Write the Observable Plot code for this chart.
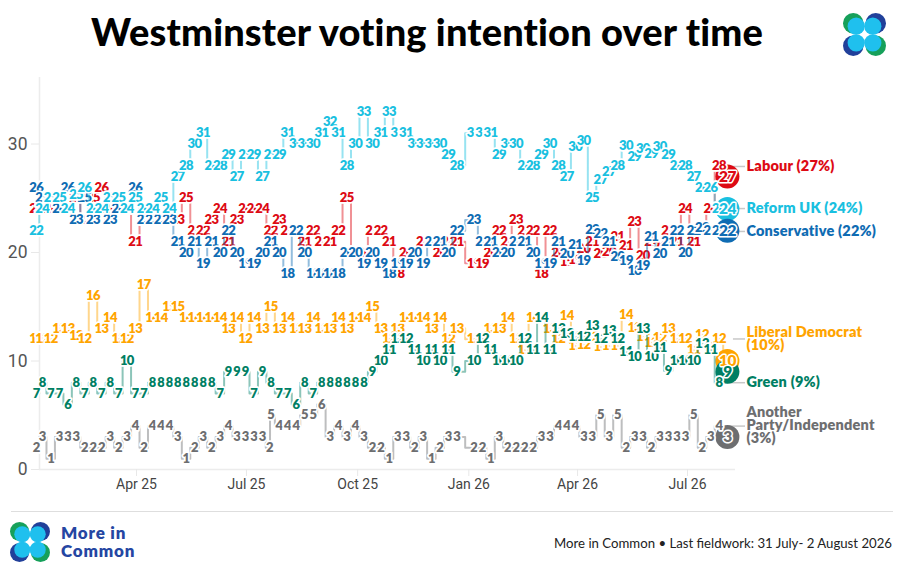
<!DOCTYPE html>
<html>
<head>
<meta charset="utf-8">
<script src="https://cdn.jsdelivr.net/npm/d3@7"></script>
<script src="https://cdn.jsdelivr.net/npm/@observablehq/plot@0.6"></script>
<style>
  html, body { margin: 0; padding: 0; background: #fff; }
  #page { position: relative; width: 904px; height: 576px; overflow: hidden; font-family: Lato, sans-serif; }
  h1 { position: absolute; left: 0; width: 854px; top: 8px; margin: 0; text-align: center; font: 900 38px/46px Lato, sans-serif; color: #000; letter-spacing: 0.15px; }
  #chart { position: absolute; left: 0; top: 60px; }
  #rule { position: absolute; left: 11px; width: 882px; top: 511px; height: 1px; background: #dedede; }
  .logo { position: absolute; }
  #brand { position: absolute; left: 61px; top: 524px; font: 800 17px/17.5px Lato, sans-serif; color: #2546a2; letter-spacing: 0.8px; }
  #src { position: absolute; right: 12px; top: 535px; font: 400 13.2px/16px Lato, sans-serif; color: #222; white-space: nowrap; }
  .num text, text.num { letter-spacing: -0.6px; }
  .endname text, text.endname { letter-spacing: 0.2px; }
</style>
</head>
<body>
<div id="page">
  <h1>Westminster voting intention over time</h1>
  <svg class="logo" style="left:843px;top:13px" width="43" height="43" viewBox="0 0 44 44">
    <circle cx="10.5" cy="10.5" r="10.5" fill="#16a05a"/><circle cx="33.5" cy="10.5" r="10.5" fill="#21409a"/>
    <circle cx="10.5" cy="33.5" r="10.5" fill="#21409a"/><circle cx="33.5" cy="33.5" r="10.5" fill="#16a05a"/>
    <circle cx="13.5" cy="13.5" r="8.8" fill="#1fc0ee"/><circle cx="30.5" cy="13.5" r="8.8" fill="#1fc0ee"/>
    <circle cx="13.5" cy="30.5" r="8.8" fill="#1fc0ee"/><circle cx="30.5" cy="30.5" r="8.8" fill="#1fc0ee"/>
  </svg>
  <div id="chart"></div>
  <div id="rule"></div>
  <svg class="logo" style="left:10px;top:522px" width="40" height="40" viewBox="0 0 44 44">
    <circle cx="10.5" cy="10.5" r="10.5" fill="#16a05a"/><circle cx="33.5" cy="10.5" r="10.5" fill="#21409a"/>
    <circle cx="10.5" cy="33.5" r="10.5" fill="#21409a"/><circle cx="33.5" cy="33.5" r="10.5" fill="#16a05a"/>
    <circle cx="13.5" cy="13.5" r="8.8" fill="#1fc0ee"/><circle cx="30.5" cy="13.5" r="8.8" fill="#1fc0ee"/>
    <circle cx="13.5" cy="30.5" r="8.8" fill="#1fc0ee"/><circle cx="30.5" cy="30.5" r="8.8" fill="#1fc0ee"/>
  </svg>
  <div id="brand">More in<br>Common</div>
  <div id="src">More in Common • Last fieldwork: 31 July- 2 August 2026</div>
</div>
<script>
const dates = [
  "2025-01-08","2025-01-13","2025-01-20","2025-01-27","2025-02-03","2025-02-10","2025-02-17","2025-02-24","2025-03-03","2025-03-10",
  "2025-03-17","2025-03-24","2025-03-31","2025-04-07","2025-04-14","2025-04-21","2025-04-28","2025-05-05","2025-05-12","2025-05-19",
  "2025-05-26","2025-06-02","2025-06-09","2025-06-16","2025-06-23","2025-06-30","2025-07-07","2025-07-14","2025-07-21","2025-07-28",
  "2025-08-04","2025-08-11","2025-08-18","2025-08-25","2025-09-01","2025-09-08","2025-09-15","2025-09-22","2025-09-29","2025-10-06",
  "2025-10-13","2025-10-20","2025-10-27","2025-11-03","2025-11-10","2025-11-17","2025-11-24","2025-12-01","2025-12-08","2025-12-15",
  "2025-12-22",
  "2026-01-05","2026-01-12","2026-01-19","2026-01-26","2026-02-02","2026-02-09","2026-02-16","2026-02-23","2026-03-02","2026-03-09",
  "2026-03-16","2026-03-23","2026-03-30","2026-04-06","2026-04-13","2026-04-20","2026-04-27","2026-05-04","2026-05-11","2026-05-18",
  "2026-05-25","2026-06-01","2026-06-08","2026-06-15","2026-06-22","2026-06-29","2026-07-06","2026-07-13","2026-07-20","2026-07-27",
  "2026-08-03"
];
const labour = [
  24,24,24,24,24,25,23,25,26,24,
  24,24,21,23,23,23,23,23,25,22,
  22,23,24,21,23,24,24,24,22,23,
  22,22,21,22,21,21,22,25,20,20,
  22,22,21,18,20,20,21,21,20,21,
  21,
  19,19,20,22,21,23,22,22,18,22,
  20,19.1,19.3,20.3,21,19.9,20.1,21.47,20.6,22.8,
  19.7,21,20.5,22,21,24,21,22,24,28,
  27
];
const conservative = [
  26,25,25,24,26,23,25,23,24,23,
  24,24,26,23,23,23,23,21,20,21,
  19,21,20,22,20,19,19,20,21,20,
  18,22,20,18,18,18,18,20,20,19,
  20,19,18,19,19,20,19,21,21,20,
  22,
  23,21,21,20,20,21,21,20,19,19,
  21,19.9,20.7,19.2,22.1,21.7,21,19.6,19.2,18.3,
  18.8,21.47,19.9,21,22,20,22,22.3,22,22,
  22
];
const reform = [
  22,24,25,25,24,25.3,26,24,24,25,
  25,24,25,24,24,25,24,27,28,30,
  31,28,28,29,27,29,29,27,29,29,
  31,30,30,30,31,32,31,28,30,33,
  30,31,33,31,31,30,30,30,30,29,
  28,
  31,31,31,29,30,30,28,28,29,30,
  28,27,29.7,30.26,25,26.7,27.4,28,29.8,28.85,
  29.55,29.1,29.77,29,28,28,27,26,26,24,
  24
];
const libDem = [
  12,12,12,13,13,12.35,12,16,13,14,
  12,12,13,17,14,14,15,15,14,14,
  14,14,14,13,14,12,14,13,15,13,
  14,13,13,14,13,13,14,13,14,14,
  15,13,12,13,14,14,14,13,14,12,
  13,
  12,12,13,13,14,12,11,14,14,13,
  12,14.2,11.4,11.5,12.2,11.3,11.4,11.4,14.3,13.1,
  12.2,11.7,12.1,13,12,12,11,12.44,11.4,12,
  10
];
const green = [
  7,8,7,7,6,8,7,8,7,8,
  7,10,7,7,8,8,8,8,8,8,
  8,8,7,9,9,9,7,9,8,7,
  7,6,8,7,8,8,8,8,8,8,
  9,10,11,12,12,11,10,11,10,11,
  9,
  10,12,11,10,10,10,12,11,14,11,
  13,12.5,12.2,12.2,13.2,12,12.8,12,10.8,10.4,
  13,10.35,11.2,9.1,10,10,10,11.6,11,8,
  9
];
const other = [
  2,3,1,3,3,3,2,2,2,3,
  2,3,4,2,4,4,4,3,1,2,
  3,2,3,4,3,3,3,3,5,4,
  4,4,5,5,6,3,4,3,4,3,
  2,2,1,3,3,2,3,1,2,3,
  3,
  2,2,1,3,2,2,2,2,3,3,
  4,4,4,3,3,5,3,5,2,3,
  3,2,3,3,3,3,5,2,3,4,
  3
];
const otherExtraDate = "2025-07-20", otherExtraValue = 2;

const partyNames = ["Labour","Conservative","Reform UK","Liberal Democrat","Green","Another Party/Independent"];
const partyColors = ["#dd0a14","#0f6cb3","#19c0e0","#ffa400","#007f64","#6d6e70"];
const partyValues = [labour, conservative, reform, libDem, green, other];

const toRows = (vals) => vals.map((v, i) => ({date: new Date(dates[i]), v}));
const seriesRows = partyValues.map(toRows);
// Another Party has two readings in the same July week
seriesRows[5].splice(28, 0, {date: new Date(otherExtraDate), v: otherExtraValue});

const circleOrder = [0, 2, 1, 3, 4, 5];
const lastDate = new Date(dates[dates.length - 1]);

const endLabelText = ["Labour (27%)","Conservative (22%)","Reform UK (24%)","Liberal Democrat\n(10%)","Green (9%)","Another\nParty/Independent\n(3%)"];
const endLabelValue = [27.93, 21.94, 24.05, 12.03, 8.0, 4.0];
const leaderStartDays = [0, 0, 0, 5, 0, 0];

const tickDates = ["2025-04-01","2025-07-01","2025-10-01","2026-01-01","2026-04-01","2026-07-01"].map(d => new Date(d));
const tickLabels = ["Apr 25","Jul 25","Oct 25","Jan 26","Apr 26","Jul 26"];

const xStart = new Date("2025-01-10T17:24Z");
const xEnd = new Date("2026-08-09T16:48Z");

const marks = [
  Plot.ruleX([xStart], {stroke: "#ececec", strokeWidth: 1.5}),
  Plot.ruleY([0], {stroke: "#ececec", strokeWidth: 1.5}),
  Plot.axisY({ticks: [0, 10, 20, 30], tickSize: 8, tickPadding: 4, stroke: "#e8e8e8", fill: "#555", fontSize: 17.5, label: null, fontFamily: "Roboto, sans-serif"}),
  Plot.axisX({ticks: tickDates, tickFormat: (d, i) => tickLabels[i], tickSize: 7, tickPadding: 3, stroke: "#e8e8e8", fill: "#444", fontSize: 14, label: null, fontFamily: "Roboto, sans-serif"}),
  ...partyNames.map((n, i) => Plot.ruleY([endLabelValue[i]], {
    x1: d3.utcDay.offset(lastDate, leaderStartDays[i]), x2: d3.utcDay.offset(lastDate, 15), stroke: "#c8c8c8", strokeWidth: 1.5
  })),
  ...circleOrder.map(i => Plot.dot(seriesRows[i].slice(-1), {x: "date", y: "v", r: 12, fill: partyColors[i], stroke: "none"})),
  ...partyNames.flatMap((n, i) => [
    Plot.line(seriesRows[i], {x: "date", y: "v", curve: "step", stroke: partyColors[i], strokeWidth: 2, strokeOpacity: 0.45}),
    Plot.text(seriesRows[i].slice(0, -1), {
      x: "date", y: "v", text: d => String(Math.round(d.v)), fill: partyColors[i], stroke: "white", strokeWidth: 3.5, paintOrder: "stroke",
      fontSize: 13, fontWeight: 800, fontFamily: "Lato, sans-serif", className: "num"
    })
  ]),
  // the latest figure of each party, larger, on top of its circle
  ...partyNames.map((n, i) => Plot.text(seriesRows[i].slice(-1), {
    x: "date", y: "v", text: d => String(Math.round(d.v)), fill: partyColors[i], stroke: "white", strokeWidth: 3, paintOrder: "stroke",
    fontSize: 15.5, fontWeight: 800, fontFamily: "Lato, sans-serif", className: "num"
  })),
  ...partyNames.map((n, i) => Plot.text([endLabelText[i]], {
    x: () => lastDate, y: () => endLabelValue[i], text: d => d, dx: 19, textAnchor: "start", lineHeight: 0.9,
    fill: partyColors[i], fontSize: 14.5, fontWeight: 800, fontFamily: "Lato, sans-serif", className: "endname"
  }))
];

const chart = Plot.plot({
  width: 904, height: 440,
  marginLeft: 39, marginRight: 169, marginTop: 17, marginBottom: 31,
  x: {type: "utc", domain: [xStart, xEnd]},
  y: {domain: [0, 36.13]},
  style: {background: "transparent", overflow: "visible"},
  marks
});
document.getElementById("chart").appendChild(chart);
</script>
</body>
</html>
